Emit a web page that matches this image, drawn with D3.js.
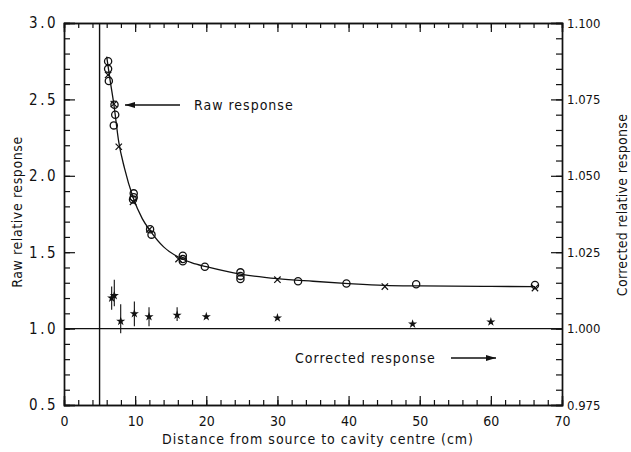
<!DOCTYPE html>
<html>
<head>
<meta charset="utf-8">
<script src="https://cdn.jsdelivr.net/npm/d3@7"></script>
<style>
  body { margin: 0; background: #fff; }
  svg text { font-family: "DejaVu Sans Condensed", "DejaVu Sans", sans-serif; fill: #111; }
</style>
</head>
<body>
<svg id="chart" width="631" height="452"></svg>
<script>
// Raw response: open circles and crosses (raw relative response, left axis)
const rawCircles = [
  [6.2, 2.75], [6.2, 2.70], [6.3, 2.62], [7.1, 2.465], [7.2, 2.40], [7.0, 2.33],
  [9.8, 1.885], [9.8, 1.86], [9.7, 1.845], [12.1, 1.65], [12.3, 1.615],
  [16.7, 1.477], [16.7, 1.455], [16.7, 1.44], [19.8, 1.405],
  [24.8, 1.368], [24.8, 1.345], [24.8, 1.325], [32.9, 1.31], [39.7, 1.295],
  [49.5, 1.29], [66.2, 1.285]
];
const rawCrosses = [
  [6.2, 2.66], [7.0, 2.47], [7.7, 2.19], [9.7, 1.83], [12.0, 1.65],
  [16.1, 1.455], [30.0, 1.32], [45.1, 1.275], [66.2, 1.265]
];
// Smooth curve drawn through the raw data
const rawCurve = [
  [6.0, 2.78], [6.5, 2.62], [7.0, 2.47], [7.7, 2.22], [8.5, 2.05], [9.7, 1.86],
  [11, 1.72], [12.2, 1.635], [14, 1.535], [16.2, 1.465], [18, 1.43], [20, 1.405],
  [25, 1.355], [30, 1.327], [35, 1.31], [40, 1.295], [45, 1.283], [50, 1.279],
  [60, 1.276], [66.2, 1.275]
];

// Corrected response (right axis) with error bars
const corrX  = [6.7, 7.07, 7.97, 9.89, 11.95, 15.9, 20.0, 30.0, 49.0, 60.0];
const corrY  = [1.0100, 1.0108, 1.0024, 1.0049, 1.0039, 1.0044, 1.0039, 1.0035, 1.0015, 1.0022];
const corrLo = [1.0062, 1.0073, 0.9985, 1.0008, 1.0008, 1.0025, 1.0034, 1.0035, 1.0015, 1.0022];
const corrHi = [1.0138, 1.0160, 1.0080, 1.0089, 1.0070, 1.0070, 1.0044, 1.0035, 1.0015, 1.0022];

const xMajor = [0, 10, 20, 30, 40, 50, 60, 70];
const yMajor = [0.5, 1.0, 1.5, 2.0, 2.5, 3.0];
const y2Major = [0.975, 1.000, 1.025, 1.050, 1.075, 1.100];

const svg = d3.select('#chart');
const L = 64, R = 562, T = 23, B = 405;

const x = d3.scaleLinear().domain([0, 70]).range([L, R]);
const y = d3.scaleLinear().domain([0.5, 3.0]).range([B, T]);
const y2 = d3.scaleLinear().domain([0.975, 1.100]).range([B, T]);

function styleAxis(g) {
  g.select('.domain').attr('stroke', '#111').attr('stroke-width', 1.4);
  g.selectAll('.tick line').attr('stroke', '#111').attr('stroke-width', 1.2);
}

// Minor ticks (no labels)
const xMinor = d3.range(0, 70.01, 2);
const yMinor = d3.range(0.5, 3.001, 0.1);
const y2Minor = d3.range(0.975, 1.1001, 0.005);

svg.append('g').attr('transform', `translate(0,${B})`)
  .call(d3.axisBottom(x).tickValues(xMinor).tickSize(-5).tickFormat(''))
  .call(styleAxis);
svg.append('g').attr('transform', `translate(0,${T})`)
  .call(d3.axisTop(x).tickValues(xMinor).tickSize(-5).tickFormat(''))
  .call(styleAxis);
svg.append('g').attr('transform', `translate(${L},0)`)
  .call(d3.axisLeft(y).tickValues(yMinor).tickSize(-6).tickFormat(''))
  .call(styleAxis);
svg.append('g').attr('transform', `translate(${R},0)`)
  .call(d3.axisRight(y2).tickValues(y2Minor).tickSize(-6).tickFormat(''))
  .call(styleAxis);

// Major ticks with labels
const gx = svg.append('g').attr('transform', `translate(0,${B})`)
  .call(d3.axisBottom(x).tickValues(xMajor).tickSize(-9).tickPadding(8).tickFormat(d3.format('d')))
  .call(styleAxis);
gx.selectAll('text').attr('font-size', 14).attr('dy', '0.9em');

svg.append('g').attr('transform', `translate(0,${T})`)
  .call(d3.axisTop(x).tickValues(xMajor).tickSize(-9).tickFormat(''))
  .call(styleAxis);

const gy = svg.append('g').attr('transform', `translate(${L},0)`)
  .call(d3.axisLeft(y).tickValues(yMajor).tickSize(-11).tickPadding(6).tickFormat(d3.format('.1f')))
  .call(styleAxis);
gy.selectAll('text').attr('font-size', 15).attr('letter-spacing', 2.5);

const gy2 = svg.append('g').attr('transform', `translate(${R},0)`)
  .call(d3.axisRight(y2).tickValues(y2Major).tickSize(-11).tickPadding(5).tickFormat(d3.format('.3f')))
  .call(styleAxis);
gy2.selectAll('text').attr('font-size', 13);

// Reference lines: source position and unity
svg.append('line')
  .attr('x1', x(5)).attr('x2', x(5)).attr('y1', T).attr('y2', B)
  .attr('stroke', '#111').attr('stroke-width', 1.4);
svg.append('line')
  .attr('x1', L).attr('x2', R).attr('y1', y(1.0)).attr('y2', y(1.0))
  .attr('stroke', '#111').attr('stroke-width', 1.4);

// Raw curve
svg.append('path')
  .datum(rawCurve)
  .attr('fill', 'none').attr('stroke', '#111').attr('stroke-width', 1.3)
  .attr('d', d3.line().x(d => x(d[0])).y(d => y(d[1])).curve(d3.curveMonotoneX));

svg.append('g').selectAll('circle')
  .data(rawCircles).join('circle')
  .attr('cx', d => x(d[0])).attr('cy', d => y(d[1])).attr('r', 3.6)
  .attr('fill', 'none').attr('stroke', '#111').attr('stroke-width', 1.3);

svg.append('g').selectAll('path')
  .data(rawCrosses).join('path')
  .attr('transform', d => `translate(${x(d[0])},${y(d[1])}) rotate(45)`)
  .attr('d', 'M-4.5,0H4.5M0,-4.5V4.5')
  .attr('stroke', '#111').attr('stroke-width', 1.2).attr('fill', 'none');

// Corrected points with error bars
const corr = corrX.map((cx, i) => ({ x: cx, y: corrY[i], lo: corrLo[i], hi: corrHi[i] }));
svg.append('g').selectAll('line')
  .data(corr.filter(d => d.hi - d.lo > 0.0008)).join('line')
  .attr('x1', d => x(d.x)).attr('x2', d => x(d.x))
  .attr('y1', d => y2(d.lo)).attr('y2', d => y2(d.hi))
  .attr('stroke', '#111').attr('stroke-width', 1.1);
svg.append('g').selectAll('path')
  .data(corr).join('path')
  .attr('transform', d => `translate(${x(d.x)},${y2(d.y)})`)
  .attr('d', d3.symbol(d3.symbolStar, 26)())
  .attr('fill', '#111');

// Annotations
const arrow = (x1, x2, yy) => {
  const dir = Math.sign(x2 - x1);
  svg.append('line').attr('x1', x1).attr('x2', x2).attr('y1', yy).attr('y2', yy)
    .attr('stroke', '#111').attr('stroke-width', 1.3);
  svg.append('path')
    .attr('d', `M${x2},${yy}L${x2 - dir * 10},${yy - 3}L${x2 - dir * 10},${yy + 3}Z`)
    .attr('fill', '#111');
};
arrow(180, 125, 105);
svg.append('text').attr('x', 194).attr('y', 110)
  .attr('font-size', 14).attr('letter-spacing', 1).text('Raw response');

svg.append('text').attr('x', 295).attr('y', 363)
  .attr('font-size', 14).attr('letter-spacing', 1).text('Corrected response');
arrow(451, 496, 358);

// Axis titles
svg.append('text')
  .attr('transform', `translate(22,212) rotate(-90)`)
  .attr('text-anchor', 'middle').attr('font-size', 14).attr('letter-spacing', 0.6)
  .text('Raw relative response');
svg.append('text')
  .attr('transform', `translate(627,205) rotate(-90)`)
  .attr('text-anchor', 'middle').attr('font-size', 14).attr('letter-spacing', 0.3)
  .text('Corrected relative response');
svg.append('text')
  .attr('x', 318).attr('y', 444)
  .attr('text-anchor', 'middle').attr('font-size', 14).attr('letter-spacing', 1)
  .text('Distance from source to cavity centre (cm)');
</script>
</body>
</html>
